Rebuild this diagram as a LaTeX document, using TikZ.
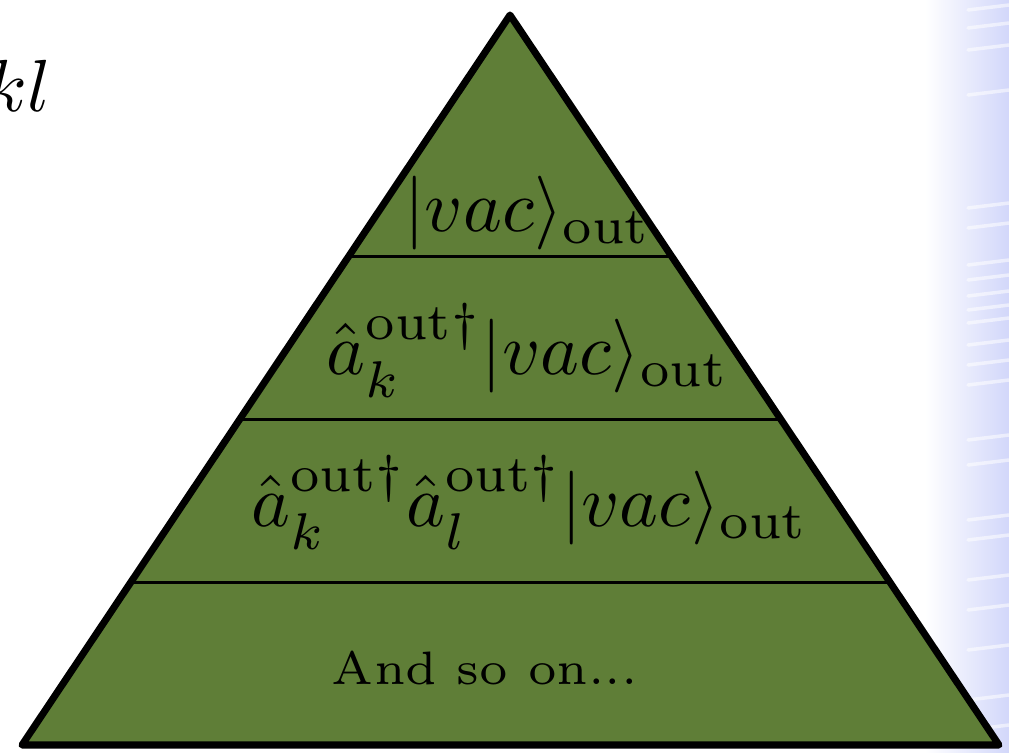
\documentclass[tikz,border=0pt]{standalone}
\usepackage{fix-cm}
\usepackage{amsmath}
\usetikzlibrary{calc,positioning}
\definecolor{pyrgreen}{RGB}{95,126,55}
\definecolor{slideblue}{RGB}{210,215,250}
\tikzset{
  pyramid/.style={
    draw,
    line width=4pt,
    line join=round,
    fill=pyrgreen
  },
  divider/.style={
    line width=1.6pt
  },
  level/.style={
    anchor=base,
    inner sep=0pt
  },
  streak/.style={
    white,
    line width=2pt,
    line cap=round,
    opacity=0.55
  }
}
\newcommand{\outdag}{^{\mathrm{out}\dagger}}
\newcommand{\bigmath}[1]{\scalebox{4.2}{$#1$}}

\begin{document}
\begin{tikzpicture}[x=0.02cm, y=0.02cm]
\useasboundingbox (0,0) rectangle (1009,752);

% --- Fond de la diapo (bord droit) ---
\shade[left color=white, right color=slideblue] (925,0) rectangle (1009,752);
\foreach \y in {742,724,702,657,544,524,487,472,456,442,429,407,387,367,312,287,232,212,172,142,102,52,22}
  \draw[streak] (968,\y) -- (1009,\y+5);

% --- Sommets de la pyramide ---
\coordinate (apex) at (510,737);
\coordinate (bl) at (22,7);
\coordinate (br) at (999,7);

% --- Pyramide ---
\draw[pyramid] (apex) -- (bl) -- (br) -- cycle;

% --- Separations entre niveaux ---
\foreach \t in {0.331,0.554,0.777}
  \draw[divider] ($(apex)!\t!(bl)$) -- ($(apex)!\t!(br)$);

% --- Etats ---
\node[level] (vac) at (528,520) {\bigmath{|vac\rangle_{\mathrm{out}}}};
\node[level] (one) at (528,377) {\bigmath{\hat{a}_k\outdag|vac\rangle_{\mathrm{out}}}};
\node[level] (two) at (530,225) {\bigmath{\hat{a}_k\outdag\hat{a}_l\outdag|vac\rangle_{\mathrm{out}}}};
\node[level] (etc) at (485,67)
  {\scalebox{4.45}{\fontsize{6}{7}\selectfont And so on...}};

% --- Reste de la formule (coupe a gauche) ---
\node[level, anchor=base east] (kl) at (51,640) {\bigmath{kl}};

\end{tikzpicture}
\end{document}
